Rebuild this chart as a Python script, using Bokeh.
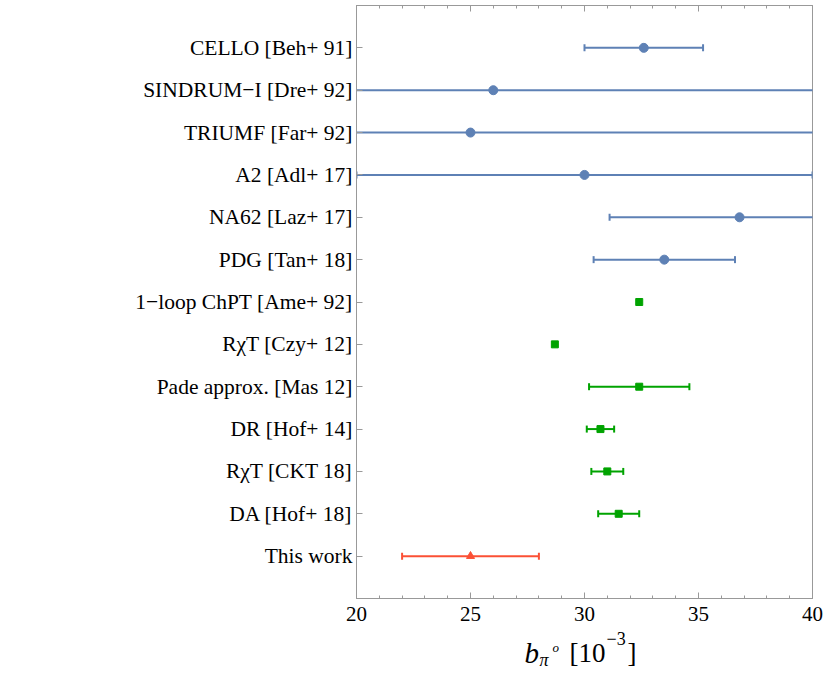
import math
from bokeh.plotting import figure
from bokeh.layouts import column
from bokeh.models import (Range1d, FixedTicker, LinearAxis, Label, ColumnDataSource,
                          CustomLabelingPolicy)
from bokeh.embed import file_html
from bokeh.resources import INLINE

# ---- data ----
labels = ["CELLO [Beh+ 91]", "SINDRUM\u2212I [Dre+ 92]", "TRIUMF [Far+ 92]",
          "A2 [Adl+ 17]", "NA62 [Laz+ 17]", "PDG [Tan+ 18]",
          "1\u2212loop ChPT [Ame+ 92]", "R\u03c7T [Czy+ 12]", "Pade approx. [Mas 12]",
          "DR [Hof+ 14]", "R\u03c7T [CKT 18]", "DA [Hof+ 18]", "This work"]
values = [32.6, 26.0, 25.0, 30.0, 36.8, 33.5, 32.4, 28.7, 32.4, 30.7, 31.0, 31.5, 25.0]
errors = [2.6, 24.0, 40.0, 10.0, 5.7, 3.1, 0.0, 0.0, 2.2, 0.6, 0.7, 0.9, 3.0]
groups = ["exp"] * 6 + ["theory"] * 6 + ["this"]
x_ticks = [20, 25, 30, 35, 40]
x_minor = list(range(20, 41))

FONT = "Liberation Serif"
AXC = "#999999"
style = {
    "exp": dict(color="#5E81B5", marker="circle", size=9),
    "theory": dict(color="#00A300", marker="square", size=7),
    "this": dict(color="#FB5035", marker="triangle", size=8),
}

n = len(labels)
ypos = [n - i for i in range(n)]

FL, FW, FR, FT, FH, FB = 356, 456, 16, 5, 593, 33
p = figure(frame_width=FW, frame_height=FH, x_range=Range1d(20, 40),
           y_range=Range1d(0, n + 1), output_backend="svg", toolbar_location=None,
           min_border_left=FL, min_border_right=FR, min_border_top=FT,
           min_border_bottom=FB, x_axis_location=None, y_axis_location=None)
p.grid.visible = False
p.outline_line_color = AXC
p.outline_line_width = 1

xb = LinearAxis(ticker=FixedTicker(ticks=x_ticks, minor_ticks=x_minor))
xa = LinearAxis(ticker=FixedTicker(ticks=x_ticks, minor_ticks=x_minor))
for ax in (xb, xa):
    ax.axis_line_color = AXC
    ax.major_tick_line_color = AXC
    ax.minor_tick_line_color = AXC
    ax.major_tick_in = 6
    ax.major_tick_out = 0
    ax.minor_tick_in = 3
    ax.minor_tick_out = 0
xb.major_label_text_font = FONT
xb.major_label_text_font_size = "21px"
xb.major_label_text_color = "black"
xb.major_label_standoff = 8
xa.major_label_policy = CustomLabelingPolicy(
    code="for (const i of indices) { indices.unset(i) }\nreturn indices")
xa.major_label_text_font_size = "1px"
xa.major_label_standoff = 0
p.add_layout(xb, "below")
p.add_layout(xa, "above")

yl = LinearAxis(ticker=FixedTicker(ticks=ypos, minor_ticks=[]))
yl.major_label_overrides = {y: lab for y, lab in zip(ypos, labels)}
yl.axis_line_color = AXC
yl.major_tick_line_color = AXC
yl.major_tick_in = 6
yl.major_tick_out = 0
yl.minor_tick_line_color = None
yl.major_label_text_font = FONT
yl.major_label_text_font_size = "21.5px"
yl.major_label_text_color = "black"
yl.major_label_standoff = 4
p.add_layout(yl, "left")

for g, st in style.items():
    idx = [i for i in range(n) if groups[i] == g]
    eidx = [i for i in idx if errors[i] > 0]
    es = ColumnDataSource(dict(
        lo=[values[i] - errors[i] for i in eidx],
        hi=[values[i] + errors[i] for i in eidx],
        y=[ypos[i] for i in eidx]))
    p.segment(x0="lo", x1="hi", y0="y", y1="y", source=es,
              line_color=st["color"], line_width=2)
    p.scatter(x="lo", y="y", source=es, marker="dash", angle=math.pi / 2,
              size=7, line_color=st["color"], line_width=2)
    p.scatter(x="hi", y="y", source=es, marker="dash", angle=math.pi / 2,
              size=7, line_color=st["color"], line_width=2)
    ps = ColumnDataSource(dict(x=[values[i] for i in idx], y=[ypos[i] for i in idx]))
    p.scatter(x="x", y="y", source=ps, marker=st["marker"], size=st["size"],
              fill_color=st["color"], line_color=st["color"])

# axis title strip below: b_{pi^o} [10^{-3}]; pulled up over the plot's bottom border
H2, LIFT = 60, 15
p2 = figure(width=FL + FW + FR, height=H2, x_range=p.x_range, y_range=Range1d(0, H2),
            output_backend="svg", toolbar_location=None,
            min_border_left=FL, min_border_right=FR, min_border_top=0,
            min_border_bottom=0, x_axis_location=None, y_axis_location=None)
p2.grid.visible = False
p2.outline_line_color = None
p2.background_fill_alpha = 0
p2.border_fill_alpha = 0
p2.styles = {"margin-top": f"-{LIFT}px"}

def xpix(px):
    # page pixel -> data units of the shared x range
    return 20 + (px - FL) * 20.0 / FW

top2 = FT + FH + FB + 7 - LIFT  # page y of the strip's top (approx.)
def ypix(py):
    return H2 - (py - top2)

parts = [
    ("b", 524, 659, "29px", "italic"),
    ("\u03c0", 539, 666, "18px", "italic"),
    ("o", 552, 654, "13px", "italic"),
    ("[10", 569, 659, "27px", "normal"),
    ("\u22123", 606, 645, "18px", "normal"),
    ("]", 627, 659, "27px", "normal"),
]
for txt, x, y, fs, fst in parts:
    p2.add_layout(Label(x=xpix(x), y=ypix(y), text=txt, text_font=FONT,
                        text_font_size=fs, text_font_style=fst, text_color="black",
                        text_baseline="alphabetic", text_align="left"))

open("out.html", "w").write(file_html(column(p, p2, spacing=0), INLINE))
